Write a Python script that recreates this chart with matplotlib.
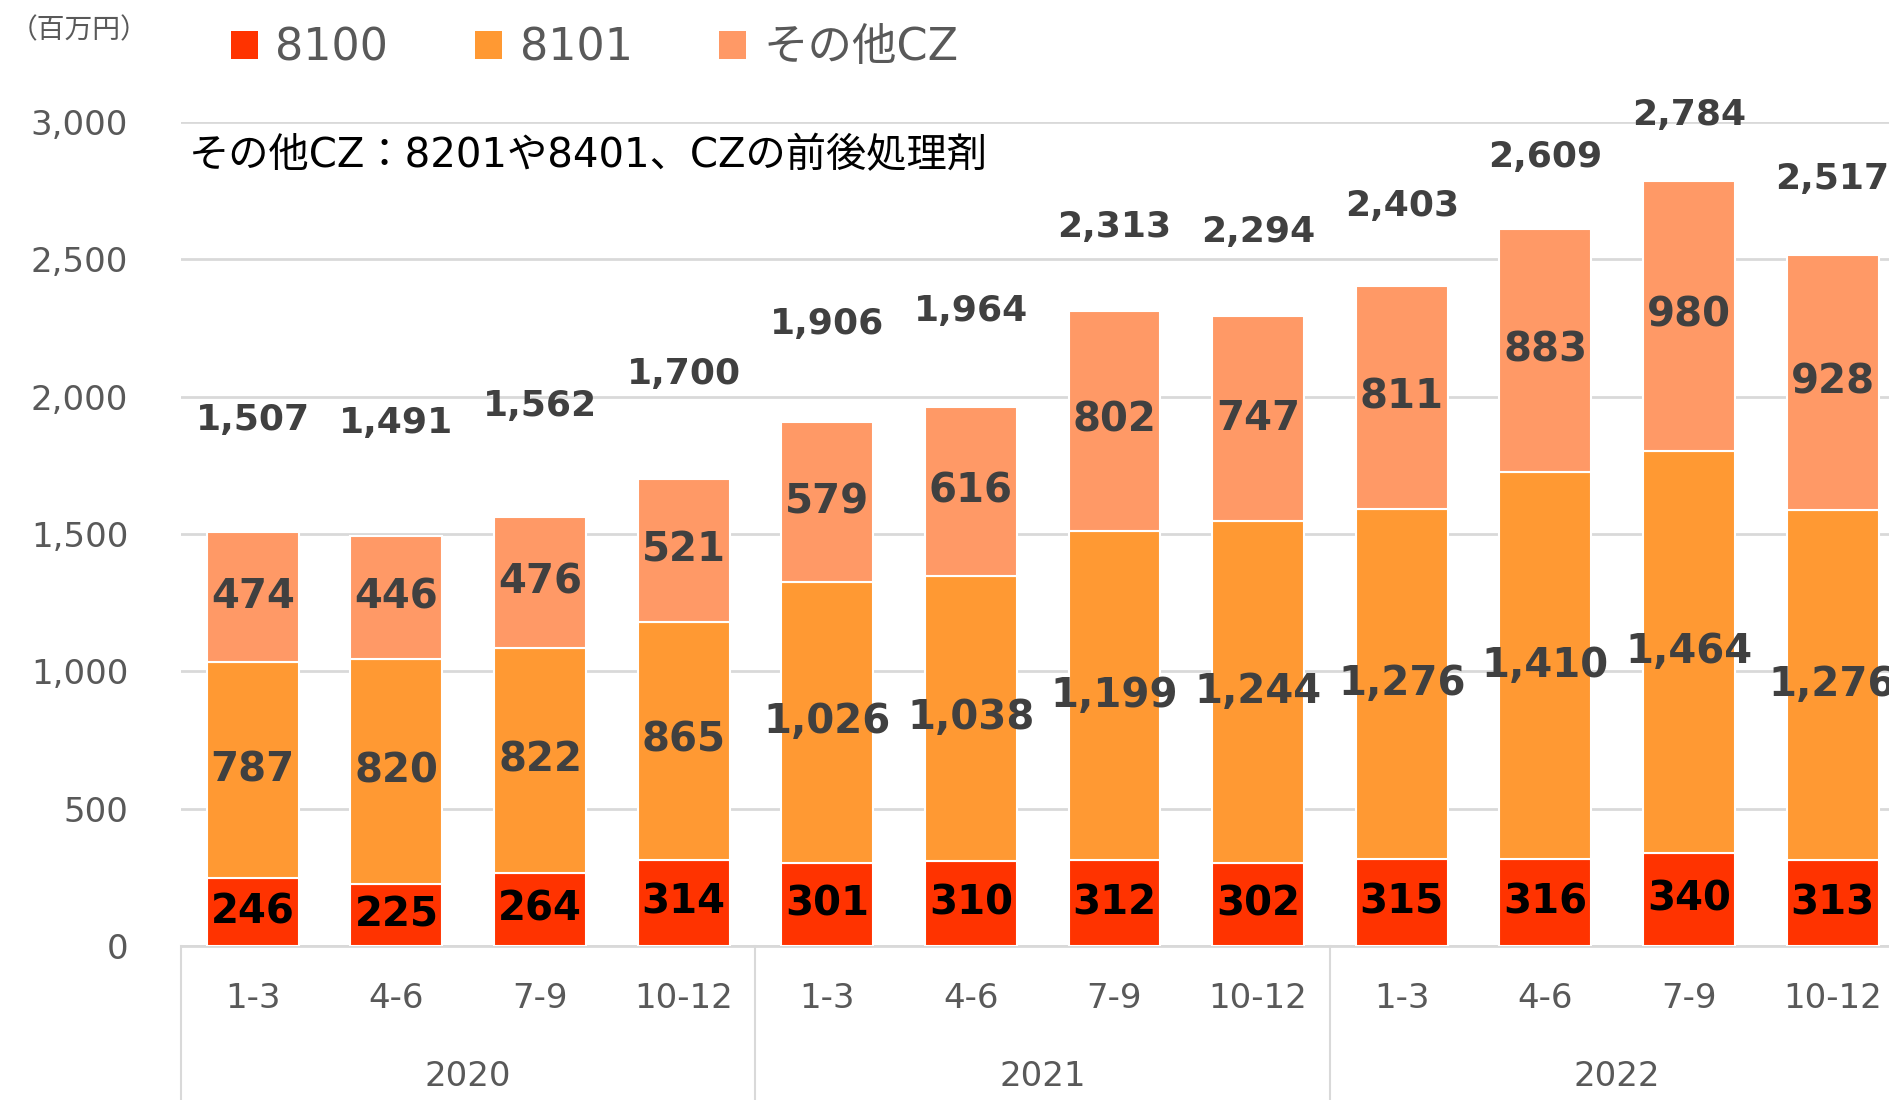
import matplotlib
matplotlib.use('Agg')
import matplotlib.pyplot as plt
from matplotlib.patches import Patch
import numpy as np

plt.rcParams['font.family'] = ['DejaVu Sans', 'Noto Sans CJK JP']

# data (百万円)
quarters = ['1-3', '4-6', '7-9', '10-12'] * 3
years = ['2020', '2021', '2022']
s8100 = [246, 225, 264, 314, 301, 310, 312, 302, 315, 316, 340, 313]
s8101 = [787, 820, 822, 865, 1026, 1038, 1199, 1244, 1276, 1410, 1464, 1276]
other = [474, 446, 476, 521, 579, 616, 802, 747, 811, 883, 980, 928]
totals = [1507, 1491, 1562, 1700, 1906, 1964, 2313, 2294, 2403, 2609, 2784, 2517]
series_names = ['8100', '8101', 'その他CZ']

c_red = '#FF3300'
c_orange = '#FF9933'
c_light = '#FF9966'
grey_txt = '#595959'
dark_lbl = '#404040'
grid_c = '#D9D9D9'

fig = plt.figure(figsize=(18.9, 11), dpi=100)
ax = fig.add_axes([181 / 1890, 1 - 946 / 1100, 1 - 181 / 1890, (946 - 122) / 1100])

x = np.arange(len(quarters))
w = 0.64
a = np.array(s8100)
b = np.array(s8101)
c = np.array(other)

ax.bar(x, a, w, color=c_red, edgecolor='white', linewidth=1.5, zorder=3)
ax.bar(x, b, w, bottom=a, color=c_orange, edgecolor='white', linewidth=1.5, zorder=3)
ax.bar(x, c, w, bottom=a + b, color=c_light, edgecolor='white', linewidth=1.5, zorder=3)

# segment labels
for i in range(len(x)):
    ax.text(x[i], a[i] / 2, f'{a[i]:,}', ha='center', va='center', fontsize=29,
            fontweight='bold', color='black', zorder=5, clip_on=False)
    ax.text(x[i], a[i] + b[i] / 2, f'{b[i]:,}', ha='center', va='center', fontsize=29,
            fontweight='bold', color=dark_lbl, zorder=5, clip_on=False)
    ax.text(x[i], a[i] + b[i] + c[i] / 2, f'{c[i]:,}', ha='center', va='center', fontsize=29,
            fontweight='bold', color=dark_lbl, zorder=5, clip_on=False)
    # total label sits higher above short bars
    ty = totals[i] + 608 - 0.1316 * totals[i]
    ax.text(x[i], ty, f'{totals[i]:,}', ha='center', va='center', fontsize=26,
            fontweight='bold', color=dark_lbl, zorder=5, clip_on=False)

ax.set_xlim(-0.5, 11.4)
ax.set_ylim(0, 3000)
ax.set_yticks(np.arange(0, 3001, 500))
ax.set_yticklabels([f'{v:,}' for v in range(0, 3001, 500)])
ax.tick_params(axis='y', length=0, pad=38, labelsize=24.5, labelcolor=grey_txt)
ax.set_xticks([])
ax.yaxis.grid(True, color=grid_c, linewidth=2, zorder=0)
ax.set_axisbelow(True)
for s in ['top', 'right', 'left']:
    ax.spines[s].set_visible(False)
ax.spines['bottom'].set_color(grid_c)
ax.spines['bottom'].set_linewidth(2)

# two-level category axis
tr = ax.get_xaxis_transform()
for i in range(len(x)):
    ax.text(x[i], -52 / 824, quarters[i], transform=tr, ha='center', va='center',
            fontsize=24.5, color=grey_txt, clip_on=False)
for k, yr in enumerate(years):
    ax.text(4 * k + 1.5, -130 / 824, yr, transform=tr, ha='center', va='center',
            fontsize=24.5, color=grey_txt, clip_on=False)
for k in range(len(years) + 1):
    ax.plot([4 * k - 0.5, 4 * k - 0.5], [0, -0.2], transform=tr, color=grid_c,
            linewidth=1.5, clip_on=False)

# note and unit
fig.text(189 / 1890, 1 - 156 / 1100, 'その他CZ：8201や8401、CZの前後処理剤',
         ha='left', va='center', fontsize=29, color='black')
fig.text(10 / 1890, 1 - 30 / 1100, '（百万円）', ha='left', va='center', fontsize=20,
         color=grey_txt, family=['Noto Sans CJK JP'])

handles = [Patch(facecolor=col, edgecolor='none') for col in [c_red, c_orange, c_light]]
fig.legend(handles, series_names, loc='center left', bbox_to_anchor=(231 / 1890, 1 - 48 / 1100),
           ncol=3, frameon=False, fontsize=32, labelcolor=grey_txt, borderpad=0,
           borderaxespad=0, handlelength=0.6, handleheight=0.6, handletextpad=0.4,
           columnspacing=1.95)

fig.savefig('out.png', dpi=100)
